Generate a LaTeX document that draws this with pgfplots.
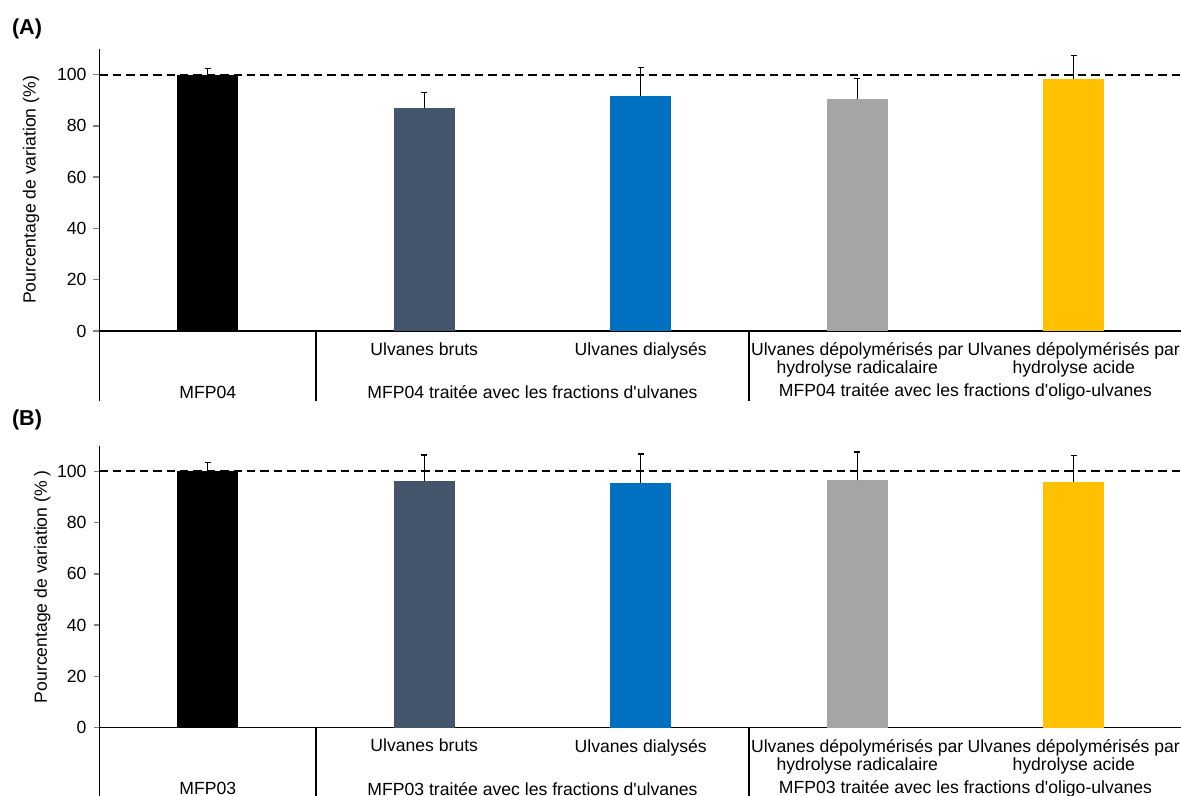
\documentclass[border=0pt]{standalone}
\usepackage{pgfplots}
\pgfplotsset{compat=1.18}
\usepackage{fontspec}
\setmainfont{Liberation Sans}
\definecolor{cslate}{HTML}{44546A}
\definecolor{cblue}{HTML}{0070C0}
\definecolor{cgray}{HTML}{A5A5A5}
\definecolor{cyellow}{HTML}{FFC000}
\newcommand{\lbl}{\fontsize{8.8}{9}\selectfont}
\newcommand{\q}{\textquotesingle}
\pgfplotsset{panel/.style={
  width=541.25pt, height=141pt, scale only axis,
  anchor=south west, clip=false,
  xmin=-0.5, xmax=4.5, ymin=0, ymax=110,
  axis x line*=bottom, axis y line*=left,
  axis line style={line width=0.7pt},
  xtick={0,1,2,3,4}, major x tick style={draw=none},
  ytick={0,20,40,60,80,100}, tick align=outside, major tick length=3pt,
  major y tick style={line width=0.7pt},
  tick label style={font=\lbl}, label style={font=\lbl},
  /pgf/number format/assume math mode=true,
  xticklabel style={align=center, anchor=north, yshift=0.8pt},
  ybar, bar width=30.5pt, bar shift=0pt,
  error bars/y dir=plus, error bars/y explicit,
  error bars/error mark=-,
  error bars/error mark options={rotate=90, black, mark size=1.6pt, line width=0.7pt},
  error bars/error bar style={black, line width=0.7pt},
  xticklabels={{}, {Ulvanes bruts}, {Ulvanes dialysés}, {Ulvanes dépolymérisés par\\hydrolyse radicalaire}, {Ulvanes dépolymérisés par\\hydrolyse acide}},
}}
\begin{document}
\begin{tikzpicture}
\useasboundingbox (0,0) rectangle (590.5pt,398pt);
\node[font=\bfseries\fontsize{10.8}{12}\selectfont] at (13.5pt,383.5pt) {(A)};
\node[font=\bfseries\fontsize{10.8}{12}\selectfont] at (13.5pt,188pt) {(B)};
% Panel A
\begin{axis}[panel, at={(49.75pt,232.5pt)},
  ylabel={Pourcentage de variation (\%)},
  ylabel style={at={(axis description cs:-0.0633,0.5)}, anchor=center}]
\addplot[fill=black, draw=none] coordinates {(0,100) +- (0,2.5)};
\addplot[fill=cslate, draw=none] coordinates {(1,86.8) +- (0,6.3)};
\addplot[fill=cblue, draw=none] coordinates {(2,91.8) +- (0,11.0)};
\addplot[fill=cgray, draw=none] coordinates {(3,90.3) +- (0,8.1)};
\addplot[fill=cyellow, draw=none] coordinates {(4,98.4) +- (0,9.0)};
\draw[line width=0.9pt, dash pattern=on 4.2pt off 2.5pt] (axis cs:-0.5,100) -- (axis cs:4.5,100);
\draw[line width=0.7pt] (axis cs:-0.5,0) -- ([yshift=-35pt]axis cs:-0.5,0);
\draw[line width=0.7pt] (axis cs:0.5,0) -- ([yshift=-35pt]axis cs:0.5,0);
\draw[line width=0.7pt] (axis cs:2.5,0) -- ([yshift=-35pt]axis cs:2.5,0);
\node[font=\lbl] at ([yshift=-30.5pt]axis cs:0,0) {MFP04};
\node[font=\lbl] at ([yshift=-30.5pt]axis cs:1.5,0) {MFP04 traitée avec les fractions d\q ulvanes};
\node[font=\lbl] at ([yshift=-30.5pt]axis cs:3.5,0) {MFP04 traitée avec les fractions d\q oligo-ulvanes};
\end{axis}
% Panel B
\begin{axis}[panel, at={(49.75pt,34.15pt)},
  ylabel={Pourcentage de variation (\% )},
  ylabel style={at={(axis description cs:-0.0527,0.5)}, anchor=center}]
\addplot[fill=black, draw=none] coordinates {(0,100) +- (0,3.5)};
\addplot[fill=cslate, draw=none] coordinates {(1,96.1) +- (0,10.2)};
\addplot[fill=cblue, draw=none] coordinates {(2,95.3) +- (0,11.4)};
\addplot[fill=cgray, draw=none] coordinates {(3,96.5) +- (0,11.1)};
\addplot[fill=cyellow, draw=none] coordinates {(4,95.7) +- (0,10.4)};
\draw[line width=0.9pt, dash pattern=on 4.2pt off 2.5pt] (axis cs:-0.5,100) -- (axis cs:4.5,100);
\draw[line width=0.7pt] (axis cs:-0.5,0) -- ([yshift=-36pt]axis cs:-0.5,0);
\draw[line width=0.7pt] (axis cs:0.5,0) -- ([yshift=-36pt]axis cs:0.5,0);
\draw[line width=0.7pt] (axis cs:2.5,0) -- ([yshift=-36pt]axis cs:2.5,0);
\node[font=\lbl] at ([yshift=-30.5pt]axis cs:0,0) {MFP03};
\node[font=\lbl] at ([yshift=-30.5pt]axis cs:1.5,0) {MFP03 traitée avec les fractions d\q ulvanes};
\node[font=\lbl] at ([yshift=-30.5pt]axis cs:3.5,0) {MFP03 traitée avec les fractions d\q oligo-ulvanes};
\end{axis}
\end{tikzpicture}
\end{document}
